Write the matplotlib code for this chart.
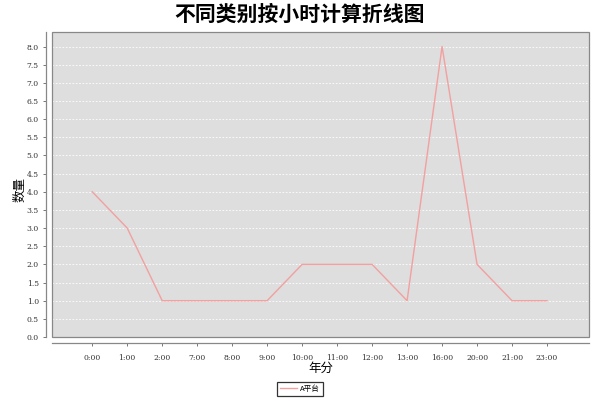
import matplotlib
matplotlib.use('Agg')
import matplotlib.pyplot as plt
from matplotlib.patches import Rectangle

plt.rcParams['font.family'] = ['Noto Sans CJK SC', 'DejaVu Sans']

hours = ['0:00', '1:00', '2:00', '7:00', '8:00', '9:00', '10:00', '11:00',
         '12:00', '13:00', '16:00', '20:00', '21:00', '23:00']
counts_a = [4, 3, 1, 1, 1, 1, 2, 2, 2, 1, 8, 2, 1, 1]
yticks = [i * 0.5 for i in range(17)]

fig = plt.figure(figsize=(6, 4), dpi=100)
ax = fig.add_axes([52 / 600, 63 / 400, 537 / 600, 305 / 400])
ax.set_facecolor('#dedede')

# spines first: moving them resets the ticks
for side in ['top', 'right']:
    ax.spines[side].set_visible(False)
for side in ['left', 'bottom']:
    ax.spines[side].set_position(('outward', 4))
    ax.spines[side].set_color('#888888')
    ax.spines[side].set_linewidth(0.9)
ax.add_patch(Rectangle((0, 0), 1, 1, transform=ax.transAxes, fill=False,
                       edgecolor='#888888', linewidth=0.9, clip_on=False, zorder=5))

x = list(range(len(hours)))
line, = ax.plot(x, counts_a, color='#f2a0a0', linewidth=1.0, label='A平台')

ax.set_xlim(-1.15, len(hours) - 1 + 1.2)
ax.set_ylim(0, 8.4)
ax.yaxis.grid(True, color='white', linestyle=(0, (2, 2)), linewidth=0.6)
ax.set_axisbelow(True)

ax.tick_params(axis='both', direction='out', length=2.5, width=0.7, color='#777777', pad=3,
               labelsize=5.5, labelcolor='#333333', labelfontfamily='DejaVu Serif')
ax.tick_params(axis='x', pad=6)

ax.set_xticks(x)
ax.set_xticklabels(hours)
ax.set_yticks(yticks)
ax.set_yticklabels(['%.1f' % v for v in yticks])

ax.set_xlabel('年分', fontsize=9)
ax.set_ylabel('数量', fontsize=9)
ax.xaxis.set_label_coords(0.5, (337 - 362) / 305)
ax.yaxis.set_label_coords((26 - 52) / 537, (337 - 190) / 305)

fig.text(0.5, 1 - 14 / 400, '不同类别按小时计算折线图', ha='center', va='center',
         fontsize=15, fontweight='bold')

leg = fig.legend(handles=[line], loc='lower center', bbox_to_anchor=(0.5, 0.0),
                 fontsize=5.5, frameon=True, fancybox=False, edgecolor='black',
                 handlelength=2.2, borderpad=0.4, handletextpad=0.4)
leg.get_frame().set_linewidth(0.9)

fig.savefig('out.png', dpi=100, facecolor='white')
